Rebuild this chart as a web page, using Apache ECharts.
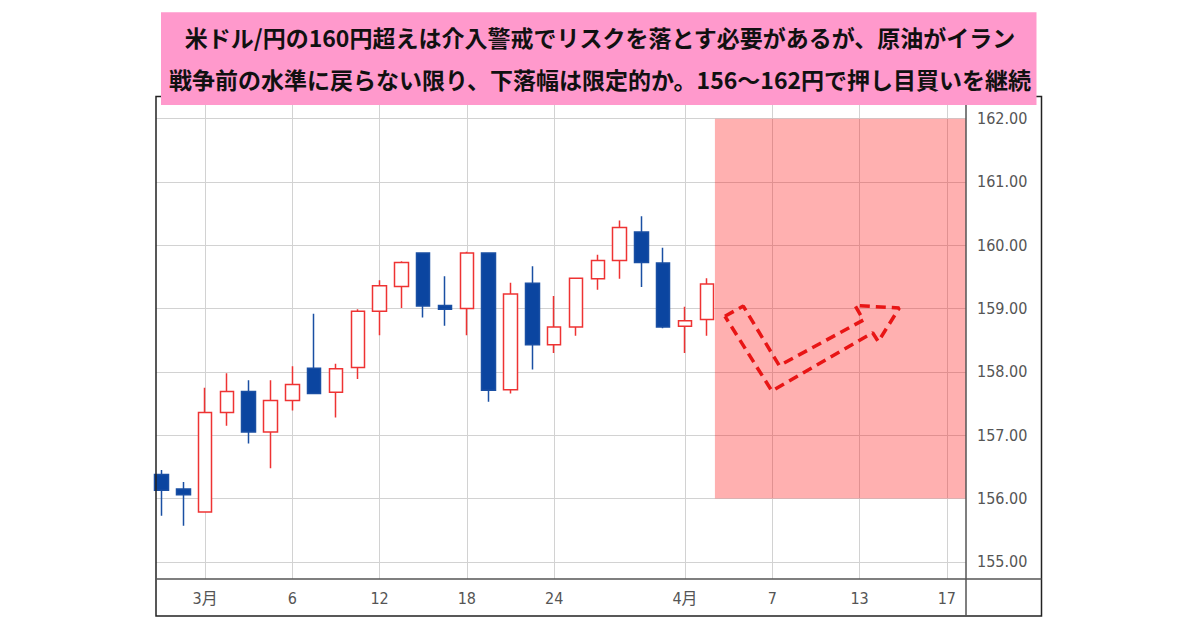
<!DOCTYPE html>
<html>
<head>
<meta charset="utf-8">
<script src="https://cdn.jsdelivr.net/npm/echarts@6/dist/echarts.min.js"></script>
<style>
html,body{margin:0;padding:0;background:#fff;}
#chart{width:1200px;height:630px;}
</style>
</head>
<body>
<div id="chart"></div>
<script>
// trading days (Feb 26 … Apr 17)
const dates = ['2/26','2/27','3/2','3/3','3/4','3/5','3/6','3/9','3/10','3/11','3/12','3/13',
  '3/16','3/17','3/18','3/19','3/20','3/23','3/24','3/25','3/26','3/27','3/30','3/31',
  '4/1','4/2','4/3','4/6','4/7','4/8','4/9','4/10','4/13','4/14','4/15','4/16','4/17'];
// candles (Feb 26 … Apr 2)
const opens  = [156.38,156.15,155.79,157.36,157.69,157.05,157.55,158.06,157.68,158.07,158.96,159.35,159.88,159.05,159.00,159.88,157.72,159.40,158.43,158.71,159.47,159.76,160.21,159.72,158.72,158.83];
const closes = [156.13,156.06,157.36,157.69,157.05,157.55,157.80,157.66,158.05,158.96,159.36,159.73,159.04,158.99,159.88,157.71,159.23,158.43,158.71,159.48,159.76,160.28,159.73,158.71,158.81,159.39];
const lows   = [155.73,155.57,155.79,157.15,156.87,156.48,157.39,157.66,157.28,157.89,158.58,159.01,158.86,158.73,158.58,157.53,157.66,158.04,158.30,158.57,159.30,159.47,159.34,158.69,158.30,158.57];
const highs  = [156.45,156.26,157.75,157.98,157.87,157.87,158.09,158.92,158.13,158.99,159.45,159.75,159.88,159.51,159.90,159.88,159.41,159.67,159.20,159.49,159.85,160.39,160.46,159.96,159.03,159.48];
// axis ticks
const tickDates  = ['3/2','3/6','3/12','3/18','3/24','4/1','4/7','4/13','4/17'];
const tickLabels = ['3月','6','12','18','24','4月','7','13','17'];
const priceTicks = [155,156,157,158,159,160,161,162];
// target zone (156〜162円) from 4/3 onward
const zoneStart = 25.37, zoneLow = 156, zoneHigh = 162;
// dashed arrow outline (x in trading-day index, y in price)
const arrowX = [25.83,26.67,28.32,32.18,31.79,33.82,32.86,32.60,27.98,25.83];
const arrowY = [158.88,159.04,158.10,158.82,159.05,159.01,158.48,158.62,157.70,158.88];
const titleText = '米ドル/円の160円超えは介入警戒でリスクを落とす必要があるが、原油がイラン\n戦争前の水準に戻らない限り、下落幅は限定的か。156～162円で押し目買いを継続';

const tickIdx = tickDates.map(d => dates.indexOf(d));
const candleData = opens.map((o, i) => [i, o, closes[i], lows[i], highs[i]]);
const arrowData = arrowX.map((x, i) => [x, arrowY[i]]);

const chart = echarts.init(document.getElementById('chart'), null, {renderer: 'svg'});
const axisFont = 'DejaVu Sans Condensed, Liberation Sans, Noto Sans CJK JP, sans-serif';
chart.setOption({
  animation: false,
  backgroundColor: '#fff',
  title: {
    text: titleText,
    left: 'center',
    top: 16,
    padding: 0,
    z: 100,
    textStyle: {fontFamily: 'Noto Sans CJK JP', fontWeight: 'bold', fontSize: 23, color: '#111', lineHeight: 42}
  },
  graphic: [
    {type: 'rect', z: 90, shape: {x: 156, y: 96.5, width: 885.5, height: 519.5}, style: {fill: 'none', stroke: '#222', lineWidth: 1.5}},
    {type: 'line', z: 90, shape: {x1: 966, y1: 96.5, x2: 966, y2: 616}, style: {stroke: '#555', lineWidth: 1.5}},
    {type: 'line', z: 90, shape: {x1: 156, y1: 579, x2: 1041.5, y2: 579}, style: {stroke: '#555', lineWidth: 1.5}},
    {type: 'rect', z: 95, shape: {x: 161, y: 12.3, width: 875.5, height: 92.7}, style: {fill: '#ff99cc'}}
  ],
  grid: {left: 156, right: 234, top: 96.5, bottom: 51},
  xAxis: {
    type: 'value', min: -0.25, max: 36.88,
    axisLine: {show: false},
    axisTick: {show: false, customValues: tickIdx},
    axisLabel: {customValues: tickIdx, margin: 11, color: '#555', fontSize: 16, fontFamily: axisFont,
      formatter: v => tickLabels[tickIdx.indexOf(Math.round(v))] || ''},
    splitLine: {show: true, lineStyle: {color: '#d2d2d2', width: 1}}
  },
  yAxis: {
    type: 'value', position: 'right', min: 154.73, max: 162.35, scale: true,
    axisLine: {show: false},
    axisTick: {show: false, customValues: priceTicks},
    axisLabel: {customValues: priceTicks, margin: 11, color: '#555', fontSize: 16, fontFamily: axisFont,
      formatter: v => v.toFixed(2)},
    splitLine: {show: true, lineStyle: {color: '#d2d2d2', width: 1}}
  },
  series: [
    {
      type: 'candlestick',
      data: candleData,
      encode: {x: 0, y: [1, 2, 3, 4]},
      barWidth: 14,
      clip: true,
      itemStyle: {color: '#ffffff', color0: '#0b45a0', borderColor: '#ee3333', borderColor0: '#1a4fa3', borderWidth: 1.5},
      markArea: {
        silent: true,
        itemStyle: {color: 'rgba(255,0,0,0.31)'},
        data: [[{xAxis: zoneStart, yAxis: zoneLow}, {xAxis: 36.88, yAxis: zoneHigh}]]
      }
    },
    {
      type: 'line',
      data: arrowData,
      symbol: 'none',
      z: 10,
      lineStyle: {color: '#e81515', width: 3.5, type: [10, 6]}
    }
  ]
});
</script>
</body>
</html>
